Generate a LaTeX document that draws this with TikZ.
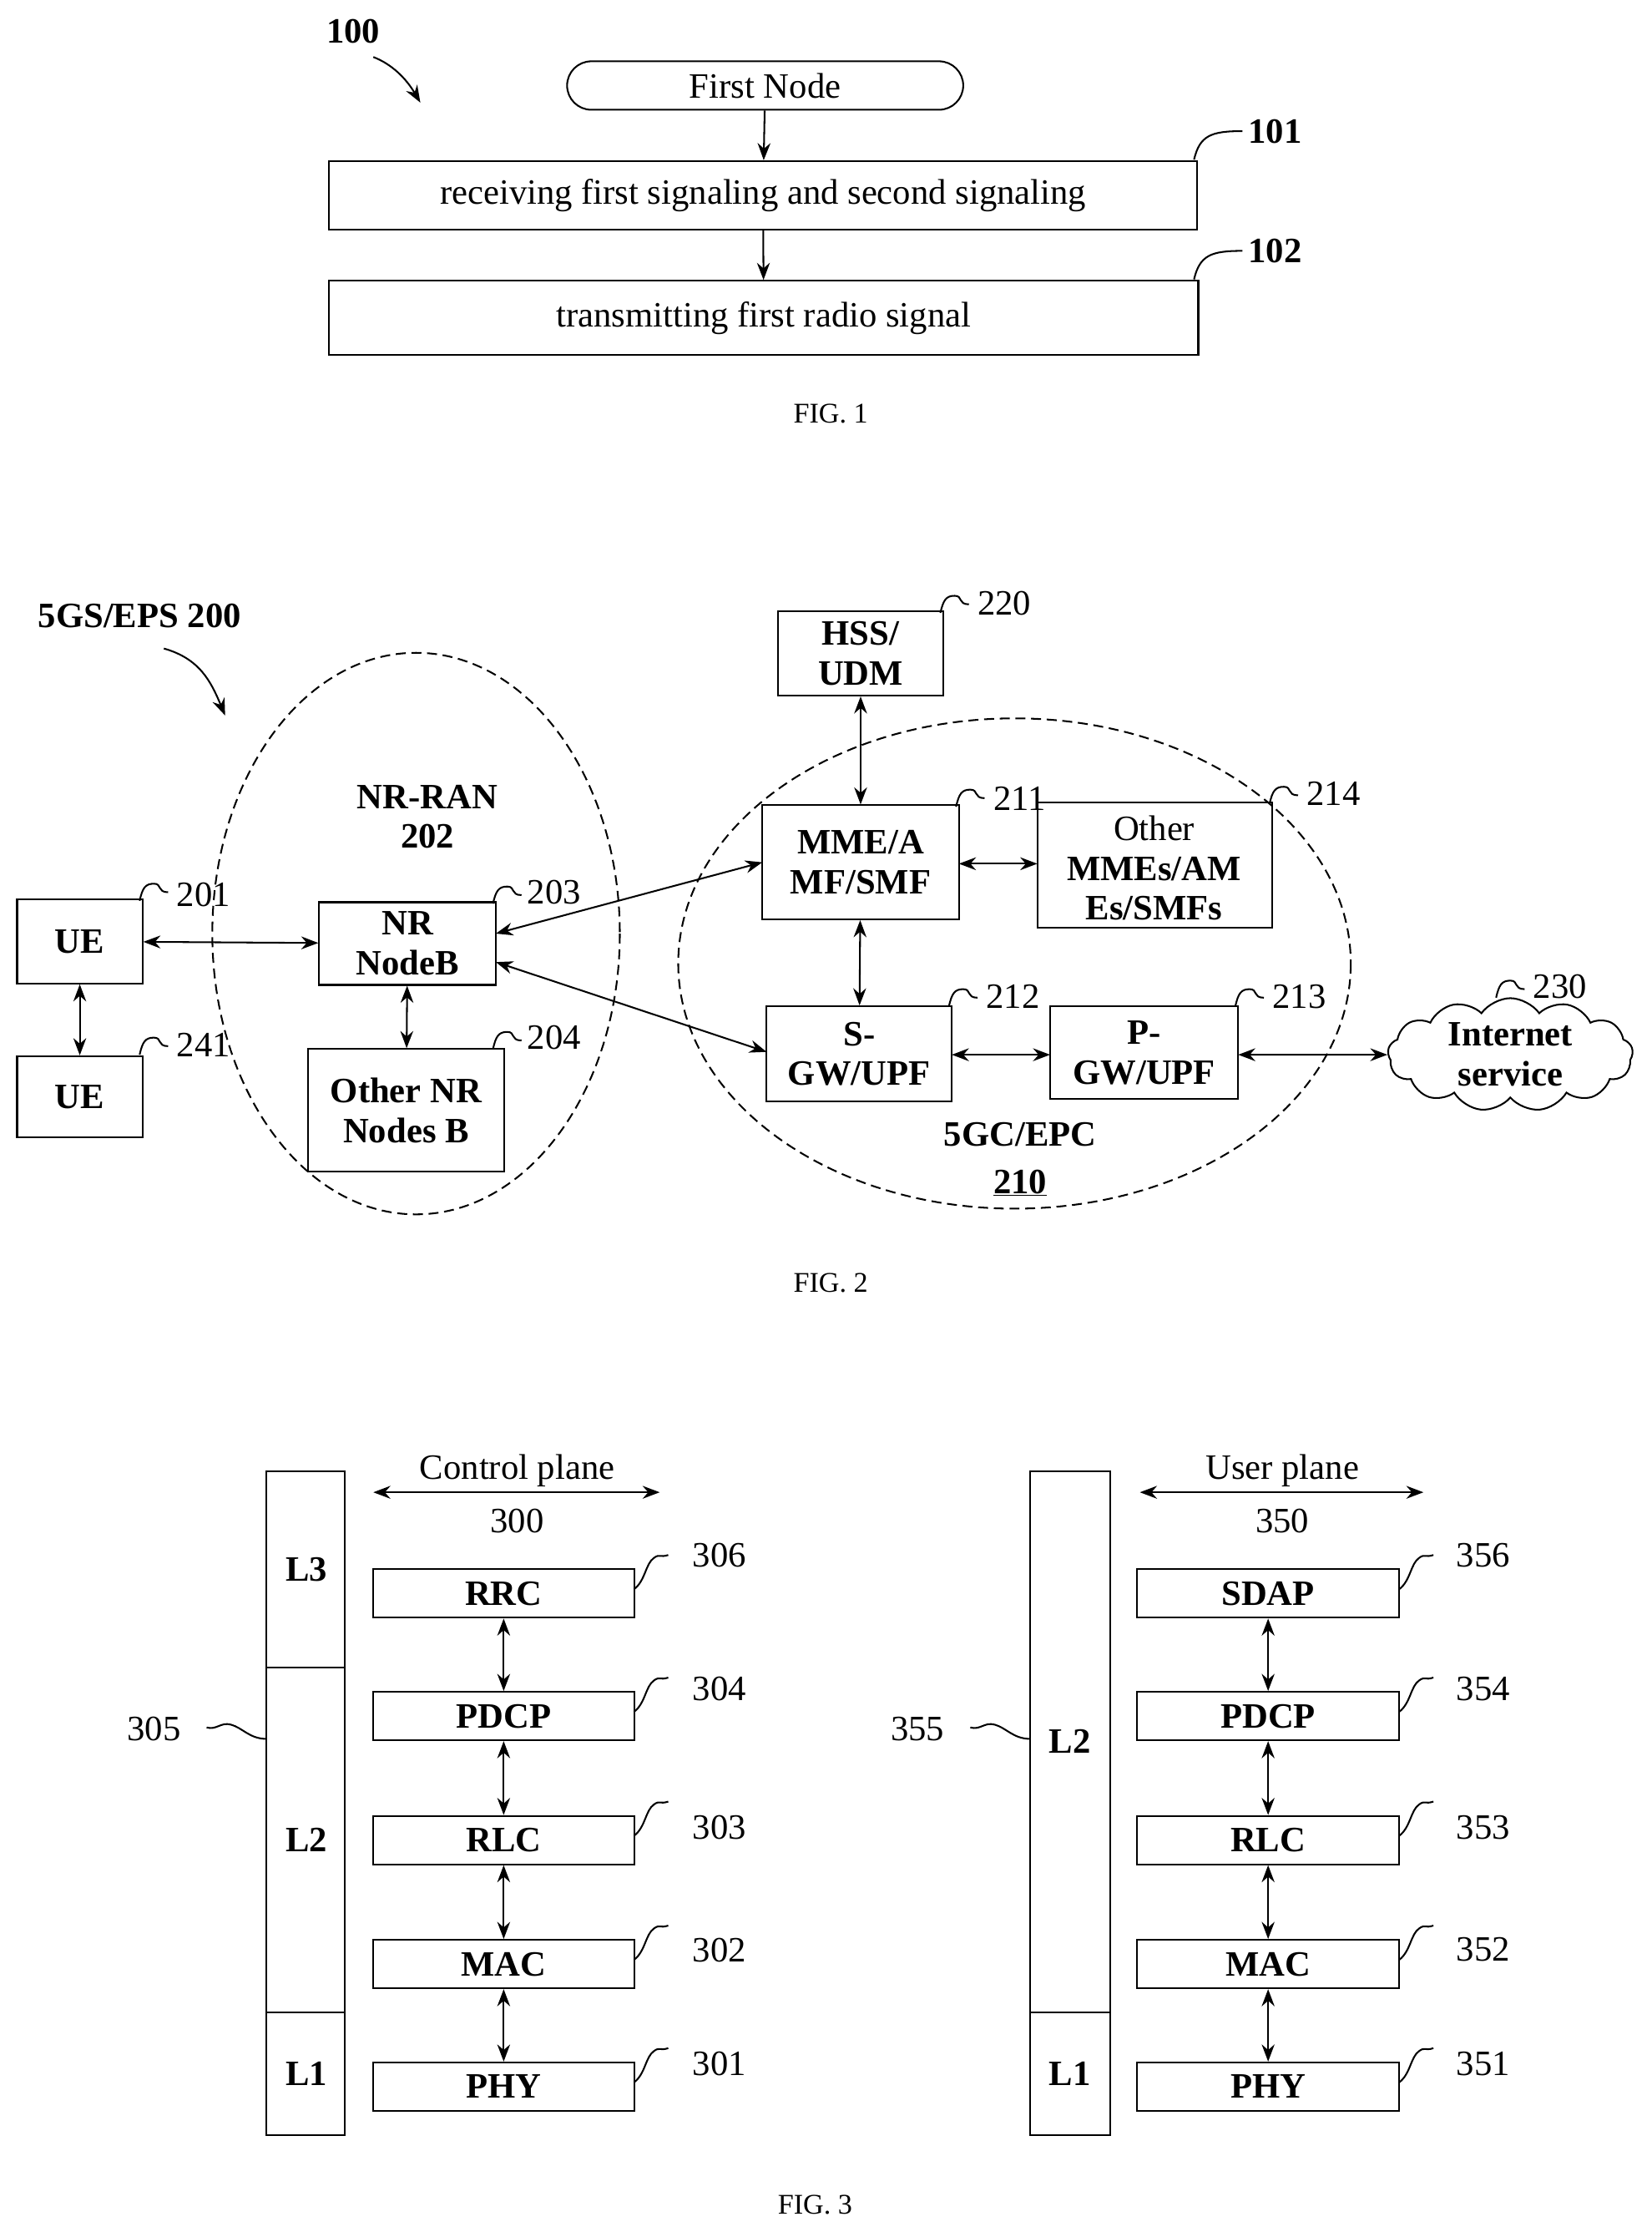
\documentclass[tikz,border=0pt]{standalone}
\usepackage{fontspec}
\setmainfont{Liberation Serif}
\usetikzlibrary{shapes.symbols,shapes.misc,arrows.meta}
\begin{document}
\begin{tikzpicture}[x=1pt,y=-1pt,
  box/.style={draw,line width=1.2pt,inner sep=0pt,align=center,font=\fontsize{25}{28}\selectfont},
  bbox/.style={box,font=\fontsize{25}{28}\selectfont\bfseries},
  lab/.style={font=\fontsize{25}{28}\selectfont,anchor=west,inner sep=0pt},
  fig/.style={font=\fontsize{20}{24}\selectfont},
  arr/.style={line width=1.2pt,{Stealth[length=12pt,width=9pt]}-{Stealth[length=12pt,width=9pt]}},
  sarr/.style={line width=1.2pt,-{Stealth[length=12pt,width=9pt]}},
  dsh/.style={line width=1.2pt,dash pattern=on 7pt off 4pt},
  sq/.style={line width=1.2pt}]
\newcommand{\bx}[7]{\node[#1,minimum width={(#5-#3)*1pt},minimum height={(#6-#4)*1pt}] (#2) at ({(#3+#5)/2},{(#4+#6)/2}) {#7};}
\useasboundingbox (0,0) rectangle (1159,1566);
% FIG 1
\node[font=\fontsize{25}{28}\selectfont\bfseries] (l100) at (248,22) {100};
\draw[sarr] (262,40) .. controls (275,45) and (285,55) .. (295,72);
\node[box,rounded rectangle,minimum width=278pt,minimum height=34pt] (fn) at (537,60) {First Node};
\bx{box}{b101}{231}{113}{840}{161}{receiving first signaling and second signaling}
\bx{box}{b102}{231}{197}{841}{249}{transmitting first radio signal}
\draw[sarr] (fn) -- (b101);
\draw[sarr] (b101) -- (b102);
\draw[sq] (838,112) .. controls (842,95) and (850,92) .. (872,92);
\node[lab] (t101) at (876,92) {\bfseries 101};
\draw[sq] (838,196) .. controls (842,179) and (850,176) .. (872,176);
\node[lab] (t102) at (876,176) {\bfseries 102};
\node[fig] (f1) at (583,290) {FIG. 1};
% FIG 2
\node[font=\fontsize{25}{28}\selectfont\bfseries] (l200) at (98,432) {5GS/EPS 200};
\draw[sarr] (115,455) .. controls (140,462) and (148,478) .. (158,502);
\draw[dsh] (292,655) ellipse (143 and 197);
\draw[dsh] (712,676) ellipse (236 and 172);
\node[font=\fontsize{25}{28}\selectfont\bfseries,align=center] (nrran) at (300,573) {NR-RAN\\202};
\node[font=\fontsize{25}{28}\selectfont\bfseries] (epc) at (716,796) {5GC/EPC};
\node[font=\fontsize{25}{28}\selectfont\bfseries] (n210) at (716,830) {\underline{210}};
\bx{bbox}{hss}{546}{429}{662}{488}{HSS/\\UDM}
\bx{bbox}{mme}{535}{565}{673}{645}{MME/A\\MF/SMF}
\bx{box}{oth}{728}{563}{893}{651}{}
\begin{scope}
\clip (728,563) rectangle (893,651);
\node[font=\fontsize{25}{28}\selectfont,align=center] (othx) at (810,609) {Other\\\bfseries MMEs/AM\\\bfseries Es/SMFs};
\end{scope}
\bx{bbox}{sgw}{538}{706}{668}{773}{S-\\GW/UPF}
\bx{bbox}{pgw}{737}{706}{869}{771}{P-\\GW/UPF}
\node[cloud,draw,line width=1.2pt,cloud puffs=13,cloud puff arc=110,minimum width=172pt,minimum height=78pt,aspect=2.3,align=center,font=\fontsize{25}{28}\selectfont\bfseries,inner sep=0pt] (inet) at (1060,740) {Internet\\service};
\bx{bbox}{ue1}{12}{631}{100}{690}{UE}
\bx{bbox}{ue2}{12}{741}{100}{798}{UE}
\bx{bbox}{nb}{224}{633}{348}{691}{NR\\NodeB}
\bx{bbox}{onb}{216}{736}{354}{822}{Other NR\\Nodes B}
\draw[arr] (ue1) -- (nb);
\draw[arr] (ue1) -- (ue2);
\draw[arr] (nb) -- (onb);
\draw[arr] (348,655) -- (535,605);
\draw[arr] (348,675) -- (538,738);
\draw[arr] (hss) -- (mme);
\draw[arr] (673,606) -- (728,606);
\draw[arr] (mme) -- (sgw);
\draw[arr] (668,740) -- (737,740);
\draw[arr] (869,740) -- (inet.west);
\foreach \n/\x/\y/\t in {a/660/430/220,b/671/566/211,c/891/564/214,d/666/706/212,e/867/706/213,f/1050/700/230,g/98/632/201,h/98/740/241,i/346/634/203,j/346/736/204}{
  \draw[sq] (\x,\y) .. controls (\x+2,\y-9) and (\x+4,\y-12) .. (\x+10,\y-12) .. controls (\x+16,\y-12) and (\x+12,\y-6) .. (\x+20,\y-6);
}
\node[lab] (t220) at (686,423) {220};
\node[lab] (t211) at (697,560) {211};
\node[lab] (t214) at (917,557) {214};
\node[lab] (t212) at (692,699) {212};
\node[lab] (t213) at (893,699) {213};
\node[lab] (t230) at (1076,692) {230};
\node[lab] (t201) at (124,628) {201};
\node[lab] (t241) at (124,733) {241};
\node[lab] (t203) at (370,626) {203};
\node[lab] (t204) at (370,728) {204};
\node[fig] (f2) at (583,900) {FIG. 2};
% FIG 3
\draw[line width=1.2pt] (187,1032) rectangle (242,1498);
\draw[line width=1.2pt] (187,1170) -- (242,1170) (187,1412) -- (242,1412);
\node[font=\fontsize{25}{28}\selectfont\bfseries] (l3) at (215,1101) {L3};
\node[font=\fontsize{25}{28}\selectfont\bfseries] (l2) at (215,1291) {L2};
\node[font=\fontsize{25}{28}\selectfont\bfseries] (l1) at (215,1455) {L1};
\coordinate (cpa) at (262,1047); \coordinate (cpb) at (463,1047);
\draw[arr] (cpa) -- (cpb);
\node[font=\fontsize{25}{28}\selectfont,fill=white,inner sep=1pt] (cp) at (363,1032) {Control plane};
\node[font=\fontsize{25}{28}\selectfont] (n300) at (363,1067) {300};
\draw[line width=1.2pt] (723,1032) rectangle (779,1498);
\draw[line width=1.2pt] (723,1412) -- (779,1412);
\node[font=\fontsize{25}{28}\selectfont\bfseries] (r2) at (751,1222) {L2};
\node[font=\fontsize{25}{28}\selectfont\bfseries] (r1) at (751,1455) {L1};
\coordinate (upa) at (800,1047); \coordinate (upb) at (999,1047);
\draw[arr] (upa) -- (upb);
\node[font=\fontsize{25}{28}\selectfont,fill=white,inner sep=1pt] (up) at (900,1032) {User plane};
\node[font=\fontsize{25}{28}\selectfont] (n350) at (900,1067) {350};
\draw[sq] (187,1220) .. controls (175,1220) and (170,1212) .. (162,1210) .. controls (155,1208) and (152,1214) .. (145,1212);
\node[font=\fontsize{25}{28}\selectfont] (t305) at (108,1213) {305};
\draw[sq] (723,1220) .. controls (711,1220) and (706,1212) .. (698,1210) .. controls (691,1208) and (688,1214) .. (681,1212);
\node[font=\fontsize{25}{28}\selectfont] (t355) at (644,1213) {355};
\foreach \s/\xa/\xb/\names in {c/262/445/{RRC,PDCP,RLC,MAC,PHY},u/798/982/{SDAP,PDCP,RLC,MAC,PHY}}{
  \foreach \nm [count=\i] in \names {
    \pgfmathsetmacro\yt{{1101,1187,1274,1361,1447}[\i-1]}
    \node[bbox,minimum width={(\xb-\xa)*1pt},minimum height=34pt] (\s\i) at ({(\xa+\xb)/2},\yt+17) {\nm};
    \draw[sq] (\xb,\yt+14) .. controls (\xb+8,\yt+8) and (\xb+8,\yt-4) .. (\xb+14,\yt-8) .. controls (\xb+18,\yt-11) and (\xb+18,\yt-8) .. (\xb+24,\yt-10);
  }
  \foreach \i [evaluate=\i as \j using int(\i+1)] in {1,2,3,4} { \draw[arr] (\s\i) -- (\s\j); }
}
\foreach \t/\x/\y in {306/505/1091,304/505/1185,303/505/1282,302/505/1368,301/505/1448,356/1041/1091,354/1041/1185,353/1041/1282,352/1041/1368,351/1041/1448}{
  \node[font=\fontsize{25}{28}\selectfont] (t\t) at (\x,\y) {\t};
}
\node[fig] (f3) at (572,1547) {FIG. 3};
\end{tikzpicture}
\end{document}
